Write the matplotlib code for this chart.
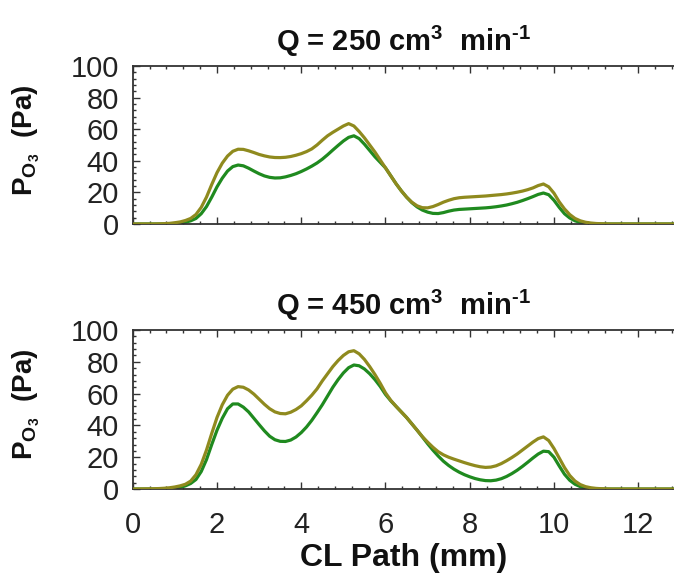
import numpy as np
import matplotlib.pyplot as plt
from matplotlib.ticker import MultipleLocator

plt.rcParams['font.family'] = ['Liberation Sans', 'DejaVu Sans']
plt.rcParams['mathtext.fontset'] = 'custom'
plt.rcParams['mathtext.rm'] = 'Liberation Sans:bold'
plt.rcParams['mathtext.bf'] = 'Liberation Sans:bold'
plt.rcParams['mathtext.it'] = 'Liberation Sans:bold'

# CL path positions (mm): 0, then 0.5 .. 11.5 every 0.125 mm, then the far end
path_mm = np.r_[0.0, np.arange(0.5, 11.5 + 1e-9, 0.125), 12.85]

# Q = 250 cm3/min
p250_olive = [0,
              0, 0.1, 0.2, 0.4,
              0.8, 1.3, 2.2, 3.5, 6, 10.5, 17, 25,
              32.5, 38.5, 43, 46, 47.3, 47.2, 46.3, 45.2,
              44, 43.1, 42.4, 42.05, 42, 42.2, 42.7, 43.5,
              44.5, 45.8, 47.5, 50, 53, 55.8, 58, 60,
              62, 63.5, 62, 58.5, 54.5, 50, 45.5, 40.5,
              35.5, 30.5, 25.5, 21, 17, 13.8, 11.5, 10.3,
              10.2, 11, 12.3, 13.8, 15, 16, 16.6, 16.9,
              17.1, 17.3, 17.5, 17.7, 18, 18.3, 18.6, 19,
              19.5, 20.1, 20.8, 21.7, 22.8, 24.3, 25.3, 23.5,
              19.5, 14, 9.5, 6, 3.5, 2, 1.1, 0.6,
              0.3, 0.15, 0.05, 0, 0,
              0]
p250_green = [0,
              0, 0, 0.05, 0.15,
              0.3, 0.6, 1.1, 2, 3.5, 6.5, 11, 17,
              23.5, 29, 33.5, 36.3, 37.3, 36.8, 35.3, 33.5,
              31.8, 30.4, 29.5, 29.1, 29.2, 29.8, 30.7, 31.8,
              33.2, 34.8, 36.6, 38.6, 41, 43.8, 46.8, 49.7,
              52.5, 54.8, 55.8, 54, 50.5, 46.5, 42.5, 39,
              35.5, 30.5, 25.5, 21, 17, 13.5, 10.8, 8.8,
              7.5, 6.7, 6.6, 7.2, 8.1, 8.8, 9.2, 9.4,
              9.6, 9.8, 10, 10.2, 10.5, 10.9, 11.4, 12,
              12.8, 13.7, 14.8, 16, 17.3, 18.7, 19.6, 18.5,
              15, 10.5, 6.5, 3.8, 2, 1, 0.45, 0.2,
              0.08, 0, 0, 0, 0,
              0]

# Q = 450 cm3/min
p450_olive = [0,
              0.2, 0.3, 0.5, 0.8,
              1.3, 2, 3, 5, 9, 15.5, 24.5, 35,
              45, 53, 59, 62.8, 64.4, 64, 62.3, 59.7,
              56.5, 53.3, 50.5, 48.5, 47.5, 47.3, 48.3, 50,
              52.3, 55.5, 59, 63, 68, 72.5, 77, 80.8,
              84, 86.3, 87, 85, 81.5, 77, 72, 66.5,
              60.5, 55.8, 52, 48.5, 45, 41, 37, 33,
              29.5, 26.3, 23.5, 21.5, 20, 18.8, 17.7, 16.6,
              15.6, 14.7, 14, 13.6, 13.8, 14.6, 16, 17.8,
              19.8, 22, 24.5, 27, 29.5, 31.7, 32.8, 30.5,
              25.5, 19.5, 13.5, 8.5, 5, 2.8, 1.5, 0.8,
              0.4, 0.2, 0.1, 0, 0,
              0]
p450_green = [0,
              0, 0.05, 0.15, 0.3,
              0.6, 1.1, 2, 3.5, 6, 11, 18.5, 28,
              37, 44.5, 50.5, 53.5, 53.5, 51.5, 48.5, 44.5,
              40.5, 36.6, 33.2, 31, 30, 29.9, 30.8, 32.7,
              35.5, 39, 43.2, 48, 53, 58.5, 64, 68.8,
              73, 76.3, 78, 77.5, 75.5, 72.5, 68.8, 64.5,
              59.5, 55.5, 52, 48.5, 45, 41, 37, 32.8,
              28.5, 24.5, 20.8, 17.5, 14.8, 12.5, 10.6, 9,
              7.7, 6.6, 5.8, 5.3, 5.2, 5.6, 6.5, 7.9,
              9.7, 11.8, 14.2, 16.8, 19.5, 22, 23.8, 23.5,
              20, 14.5, 9.3, 5.5, 3, 1.5, 0.7, 0.3,
              0.1, 0, 0, 0, 0,
              0]

panels = [("250", p250_olive, p250_green), ("450", p450_olive, p450_green)]

olive = '#8f8a1e'
green = '#1f8a1f'
spine_col = '#333333'

fig = plt.figure(figsize=(6.74, 5.81), dpi=100)
boxes = [[0.197, 0.6145, 0.803, 0.272], [0.197, 0.1583, 0.803, 0.2737]]

for i, (q, y_ol, y_gr) in enumerate(panels):
    ax = fig.add_axes(boxes[i])
    ax.plot(path_mm, y_ol, color=olive, lw=2.3, zorder=3,
            solid_joinstyle='round')
    ax.plot(path_mm, y_gr, color=green, lw=2.3, zorder=2,
            solid_joinstyle='round')
    ax.set_xlim(0, 12.85)
    ax.set_ylim(0, 100)
    ax.xaxis.set_major_locator(MultipleLocator(2))
    ax.xaxis.set_minor_locator(MultipleLocator(0.4))
    ax.yaxis.set_major_locator(MultipleLocator(20))
    ax.yaxis.set_minor_locator(MultipleLocator(4))
    ax.tick_params(which='both', direction='in', top=True, right=False,
                   colors=spine_col, labelcolor='#222222', width=1.0)
    ax.tick_params(which='major', length=5, labelsize=21)
    ax.tick_params(which='minor', length=2.5)
    ax.tick_params(axis='y', which='major', pad=10)
    ax.tick_params(axis='x', which='major', pad=16)
    ax.spines['right'].set_visible(False)
    for s in ['left', 'top', 'bottom']:
        ax.spines[s].set_color(spine_col)
        ax.spines[s].set_linewidth(1.3)
    ax.set_title(r'Q = ' + q + r' cm$^{3}$  min$^{\text{-}1}$',
                 fontsize=21, fontweight='bold', pad=11, color='#111111')
    ax.set_ylabel(r'$\mathbf{P_{O_3}}$  (Pa)', fontsize=20,
                  fontweight='bold', color='#111111')
    ax.yaxis.set_label_coords(-0.168, 0.53)
    if i == 0:
        ax.tick_params(labelbottom=False)
    else:
        ax.set_xlabel('CL Path (mm)', fontsize=23, fontweight='bold',
                      color='#111111', labelpad=3)

fig.savefig('out.png', dpi=100)
